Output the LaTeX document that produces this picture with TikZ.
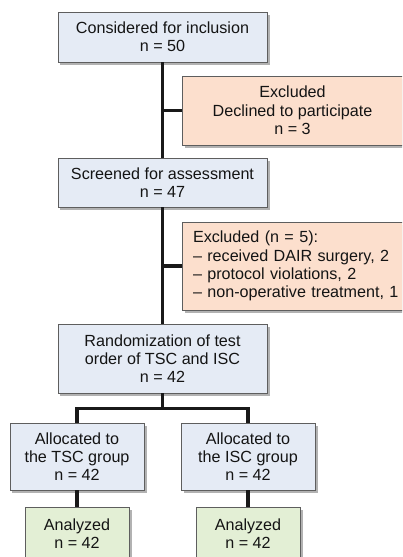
\documentclass[tikz,border=0pt]{standalone}
\usepackage{fontspec}
\setmainfont{Liberation Sans}
\usetikzlibrary{positioning,shadows}

\definecolor{boxblue}{HTML}{E5EBF5}
\definecolor{boxorange}{HTML}{FCDFCD}
\definecolor{boxgreen}{HTML}{E3EFD5}
\definecolor{boxline}{HTML}{5E5E5E}

\begin{document}
\begin{tikzpicture}[
  x=1bp, y=-1bp,
  font=\fontsize{16.2}{18.4}\selectfont,
  box/.style={rectangle, draw=boxline, line width=0.9bp, inner sep=0pt, align=center,
              text=black!92,
              drop shadow={shadow xshift=2.5bp, shadow yshift=-3bp, fill=black, opacity=0.3}},
  blu/.style={box, fill=boxblue},
  ora/.style={box, fill=boxorange},
  grn/.style={box, fill=boxgreen},
  con/.style={draw=black!90, line width=3.3bp}
]
\useasboundingbox (0,0) rectangle (402,557);
\clip (0,0) rectangle (402,557);

\node[blu, minimum width=209bp, minimum height=50bp] (cons) at (162.5,37)
  {Considered for inclusion\\n = 50};
\node[ora, minimum width=221bp, minimum height=69bp] (excl1) at (292.5,110.5)
  {Excluded\\Declined to participate\\n = 3};
\node[blu, minimum width=209bp, minimum height=49bp] (scr) at (162.5,182.5)
  {Screened for assessment\\n = 47};
\node[ora, minimum height=88bp, inner xsep=11bp, text width=210bp, align=left] (excl2) at (298,266)
  {Excluded (n = 5):\\– received DAIR surgery, 2\\– protocol violations, 2\\– non-operative treatment, 1};
\node[blu, minimum width=209bp, minimum height=69bp] (rand) at (162.5,358.5)
  {Randomization of test\\order of TSC and ISC\\n = 42};
\node[blu, minimum width=134bp, minimum height=67bp] (alloctsc) at (77,456.5)
  {Allocated to\\the TSC group\\n = 42};
\node[blu, minimum width=134bp, minimum height=67bp] (allocisc) at (248,456.5)
  {Allocated to\\the ISC group\\n = 42};
\node[grn, minimum width=104bp, minimum height=53bp] (antsc) at (77,533.5)
  {Analyzed\\n = 42};
\node[grn, minimum width=104bp, minimum height=53bp] (anisc) at (248,533.5)
  {Analyzed\\n = 42};

\draw[con] (cons.south) -- (scr.north);
\draw[con] (excl1.west) -- (excl1.west -| cons.south);
\draw[con] (scr.south) -- (rand.north);
\draw[con] (excl2.west) -- (excl2.west -| scr.south);
\draw[con] (rand.south) -- ++(0,15) -| (alloctsc.north);
\draw[con] (rand.south) -- ++(0,15) -| (allocisc.north);
\draw[con] (alloctsc.south) -- (antsc.north);
\draw[con] (allocisc.south) -- (anisc.north);
\end{tikzpicture}
\end{document}
